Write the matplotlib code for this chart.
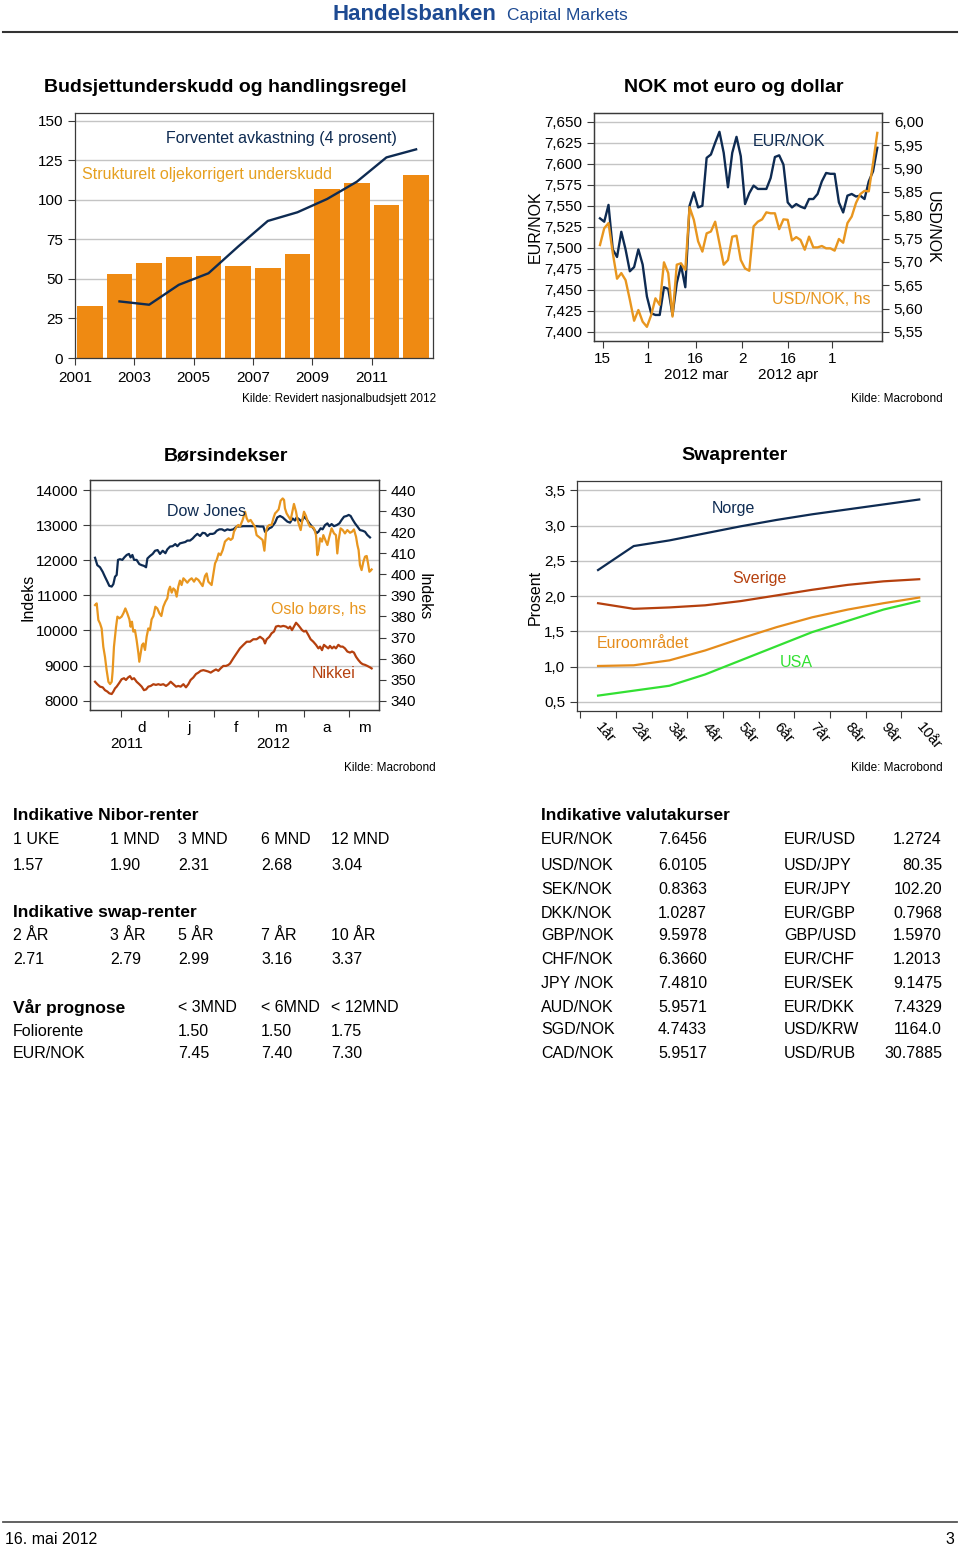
import numpy as np
import matplotlib
matplotlib.use("Agg")
import matplotlib.pyplot as plt
from matplotlib.lines import Line2D
from matplotlib.ticker import FuncFormatter

plt.rcParams['font.family'] = ['Liberation Sans', 'DejaVu Sans']

# --- Budsjettunderskudd og handlingsregel (mrd. kr) ---
years = list(range(2001, 2013))
deficit = [32.6, 53.0, 60.0, 63.7, 64.8, 58.0, 56.8, 65.9, 107.0, 110.7, 96.6, 115.7]
exp_years = list(range(2002, 2013))
expected = [35.8, 33.7, 46.3, 53.6, 70.5, 86.7, 92.2, 100.6, 111.5, 126.9, 132.0]

# --- NOK mot euro og dollar (daily, 15 feb - 15 mai 2012) ---
eurnok = [7.535, 7.531, 7.551, 7.498, 7.489, 7.519, 7.498, 7.472, 7.477, 7.498, 7.480,
          7.442, 7.422, 7.420, 7.420, 7.453, 7.451, 7.420, 7.458, 7.479, 7.453, 7.550,
          7.566, 7.548, 7.550, 7.607, 7.611, 7.625, 7.638, 7.613, 7.572, 7.613, 7.632,
          7.609, 7.552, 7.565, 7.574, 7.570, 7.570, 7.570, 7.583, 7.608, 7.610, 7.599,
          7.554, 7.548, 7.552, 7.549, 7.547, 7.558, 7.558, 7.564, 7.579, 7.589, 7.588,
          7.588, 7.554, 7.542, 7.562, 7.564, 7.561, 7.562, 7.558, 7.579, 7.591, 7.619]
usdnok = [5.736, 5.772, 5.783, 5.719, 5.664, 5.676, 5.661, 5.619, 5.574, 5.597, 5.572,
          5.561, 5.586, 5.622, 5.608, 5.699, 5.676, 5.583, 5.694, 5.697, 5.683, 5.817,
          5.790, 5.744, 5.722, 5.761, 5.765, 5.786, 5.740, 5.694, 5.704, 5.754, 5.756,
          5.704, 5.686, 5.681, 5.776, 5.786, 5.791, 5.806, 5.804, 5.804, 5.770, 5.791,
          5.790, 5.746, 5.753, 5.747, 5.726, 5.754, 5.731, 5.731, 5.734, 5.729, 5.729,
          5.724, 5.749, 5.741, 5.783, 5.797, 5.826, 5.845, 5.852, 5.851, 5.911, 5.976]
fx_ticks = [0.6, 11.25, 22.4, 33.3, 44.1, 54.4]
fx_ticklabels = ['15', '1', '16', '2', '16', '1']

# --- Børsindekser (x = days from 1 Dec 2011) ---
dow_days = [-17.3, -15.8, -14, -12.2, -10.7, -9.1, -7.8, -6.2, -5.1, -4, -2.9, -2, -0.7, 0.9,
            2.2, 3.8, 5.3, 6.4, 7.6, 8.7, 10.4, 12.2, 13.8, 15.3, 16.7, 17.6, 19.3, 21.1, 22.7,
            24.4, 26, 27.8, 29.6, 30.9, 32.7, 34.4, 36.2, 37.6, 39.3, 41.1, 42.9, 44.2, 46,
            47.8, 49.3, 50.9, 52.7, 54.4, 56, 57.6, 59.3, 61.1, 62.4, 63.8, 65.6, 67.3, 69.1,
            70.9, 72.7, 74.9, 77.1, 79.3, 81.6, 83.8, 86.0, 88.2, 90.4, 92.7, 94.9, 96.0, 97.1,
            98.9, 100.4, 102.7, 104.2, 106.0, 107.8, 109.3, 110.9, 112.7, 114.4, 116.0, 117.1,
            118.9, 120.4, 122.0, 123.8, 125.6, 127.1, 128.7, 130.4, 131.6, 133.1, 134.4, 136.0,
            137.6, 138.9, 140.4, 142.0, 143.8, 145.6, 147.1, 148.7, 150.4, 151.8, 153.1, 154.4,
            156.0, 157.6, 159.3, 161.1, 162.7, 164.2, 166.0]
dow = [12070, 11860, 11800, 11670, 11530, 11390, 11270, 11250, 11320, 11530, 11580, 12010,
       12030, 12010, 12080, 12150, 12180, 12080, 12150, 12010, 12010, 11890, 11860, 11840,
       11800, 12050, 12120, 12180, 12270, 12290, 12180, 12270, 12200, 12310, 12390, 12400,
       12460, 12400, 12480, 12500, 12520, 12560, 12560, 12620, 12690, 12750, 12690, 12780,
       12770, 12690, 12750, 12750, 12770, 12840, 12880, 12880, 12840, 12880, 12860,
       12880, 12960, 12960, 12970, 12970, 12970, 12970, 12970, 12960, 12960, 12810, 12840,
       12910, 12940, 13070, 13220, 13260, 13220, 13160, 13100, 13070, 13190, 13130, 13220,
       13160, 13100, 13240, 13160, 13050, 12970, 12880, 12770, 12810, 12910, 12880, 13000,
       13050, 12970, 13030, 12970, 13000, 13050, 13150, 13240, 13260, 13290, 13260, 13160,
       13050, 12960, 12860, 12840, 12810, 12720, 12650]
osl_days = [-17.3, -16.2, -15.1, -14.0, -12.9, -11.8, -10.7, -9.6, -8.4, -7.3, -6.2, -5.6,
            -4.7, -3.3, -2.4, -1.1, 0.4, 1.6, 2.9, 4.2, 5.6, 6.4, 7.3, 8.2, 9.3, 10.4, 11.6,
            12.2, 13.1, 14.0, 14.9, 16.0, 17.1, 18.2, 19.3, 20.4, 21.6, 22.9, 24.2, 25.6,
            26.9, 28.2, 29.6, 30.9, 31.8, 32.7, 33.8, 34.9, 36.0, 37.1, 38.2, 39.3, 40.4,
            41.6, 42.7, 44.2, 45.6, 47.1, 48.7, 50.0, 51.6, 53.1, 54.4, 56.0, 57.1, 58.2,
            59.3, 60.4, 61.6, 62.7, 63.8, 65.1, 66.4, 67.8, 69.3, 70.4, 71.8, 73.1,
            74.4, 75.3, 77.1, 78.2, 79.3, 81.1, 82.7, 83.8, 84.9, 86.4, 87.8, 89.3, 90.4,
            91.8, 93.1, 94.4, 95.6, 96.7, 97.6, 98.9, 100.4, 101.6, 102.7, 103.8, 105.1,
            106.4, 107.8, 108.7, 109.3, 110.4, 111.8, 113.1, 114.4, 115.3, 116.7, 117.6,
            118.7, 119.8, 121.1, 122.0, 123.3, 124.7, 126.0, 127.3, 128.7, 130.0, 130.9,
            131.8, 132.7, 134.0, 134.9, 136.2, 137.6, 138.9, 140.4, 142.0, 143.3, 144.2,
            145.1, 146.4, 147.8, 149.3, 150.9, 152.7, 154.0, 155.3, 156.7, 157.6, 158.4,
            159.3, 160.4, 161.6, 162.7, 163.8, 164.7, 165.6, 166.4, 167.1]
oslo = [385.4, 386.2, 378.3, 376.7, 374.3, 365.6, 360.9, 354.6, 349.0, 347.9, 349.0, 353.8,
        365.6, 375.1, 379.9, 379.1, 379.9, 381.5, 383.8, 381.5, 378.6, 375.1, 377.5, 372.8,
        373.5, 368.8, 362.5, 358.5, 362.5, 366.4, 367.2, 364.1, 370.4, 374.3, 373.5, 378.6,
        380.2, 384.6, 383.8, 381.5, 380.2, 384.6, 387.0, 388.6, 392.5, 394.1, 391.3, 393.3,
        392.5, 389.4, 394.1, 397.0, 394.9, 398.1, 397.3, 396.0, 397.3, 398.1, 396.5, 398.1,
        397.3, 395.7, 394.4, 399.2, 400.4, 396.5, 395.7, 394.9, 400.4, 405.2, 406.8, 409.9,
        409.1, 411.5, 415.5, 416.3, 417.1, 416.3,
        417.1, 420.2, 422.6, 423.4, 422.6, 425.8, 429.7, 426.6, 425.0, 425.8, 424.2, 422.6,
        418.6, 417.8, 417.1, 416.3, 411.2, 420.2, 422.6, 423.4, 423.4, 426.6, 428.9, 429.7,
        430.8, 434.9, 436.0, 435.3, 431.3, 428.9, 427.3, 425.8, 430.2, 433.4, 429.7, 426.1,
        423.4, 421.0, 426.6, 429.7, 427.7, 424.5, 422.6, 422.6, 421.8, 418.6, 409.1, 411.5,
        417.1, 415.5, 418.6, 416.3, 413.9, 417.8, 421.8, 419.4, 418.6, 409.9, 416.3, 421.8,
        421.0, 419.4, 421.0, 419.7, 420.2, 421.3, 417.8, 413.9, 411.5, 404.4, 402.0, 406.0,
        408.4, 408.7, 405.2, 401.2, 401.7, 402.3]
nik_days = [-17.3, -15.8, -14.0, -12.2, -10.7, -9.1, -7.8, -6.2, -5.1, -4.0, -2.9, -1.1, 0.4,
            2.0, 3.3, 4.7, 6.0, 7.3, 8.7, 10.4, 12.2, 13.8, 15.3, 16.7, 18.2, 19.8, 21.6, 23.3,
            24.9, 26.4, 28.2, 30.0, 31.6, 33.1, 34.9, 36.7, 38.2, 39.8, 41.6, 43.3, 44.9, 46.4,
            48.2, 50.0, 51.6, 53.1, 54.9, 56.7, 58.2, 59.8, 61.6, 63.3, 64.9, 66.4, 68.2, 70.0,
            71.6, 72.7, 74.9, 77.1, 79.3, 81.6, 83.8, 86.0, 88.2, 90.4, 92.7, 94.9, 96.0, 97.1,
            98.9, 100.4, 102.0, 103.3, 104.9, 106.4, 108.2, 110.0, 111.6, 112.7, 114.0, 115.3,
            116.7, 118.2, 119.3, 120.7, 122.0, 123.3, 124.9, 126.4, 128.2, 130.0, 131.6, 132.7,
            134.0, 135.3, 136.7, 138.2, 139.3, 140.7, 142.0, 143.3, 144.9, 146.4, 147.8, 149.3,
            150.9, 152.7, 154.0, 155.3, 156.7, 158.2, 159.8, 161.1, 162.7, 164.2, 166.0, 167.1]
nikkei = [8540, 8470, 8400, 8380, 8300, 8260, 8210, 8190, 8260, 8350, 8400, 8510, 8610, 8640,
          8590, 8660, 8700, 8610, 8640, 8540, 8470, 8400, 8300, 8320, 8400, 8420, 8470, 8450,
          8470, 8450, 8470, 8420, 8470, 8540, 8470, 8400, 8420, 8400, 8470, 8380, 8470, 8590,
          8660, 8760, 8800, 8850, 8870, 8850, 8830, 8800, 8850, 8890, 8850, 8920, 8990, 8990,
          9020, 9060, 9210, 9350, 9490, 9590, 9680, 9680, 9750, 9750, 9820, 9750, 9630, 9750,
          9820, 9920, 9970, 10110, 10130, 10110, 10130, 10110, 10060, 10110, 10010, 10110,
          10220, 10150, 10090, 10010, 9970, 9990, 9870, 9750, 9680, 9590, 9490, 9540, 9440,
          9590, 9540, 9490, 9560, 9490, 9540, 9490, 9590, 9540, 9540, 9490, 9400, 9370, 9400,
          9370, 9250, 9160, 9080, 9040, 9020, 8990, 8950, 8920]
month_edges = [0, 31, 62, 91, 122, 152]
month_mid = [14, 45.3, 76.5, 106.5, 137, 162]
month_labels = ['d', 'j', 'f', 'm', 'a', 'm']

# --- Swaprenter ---
tenors = list(range(1, 11))
tenor_labels = ['1år', '2år', '3år', '4år', '5år', '6år', '7år', '8år', '9år', '10år']
norge = [2.37, 2.71, 2.79, 2.89, 2.99, 3.08, 3.16, 3.23, 3.30, 3.37]
sverige = [1.90, 1.82, 1.84, 1.87, 1.93, 2.01, 2.09, 2.16, 2.21, 2.24]
euro = [1.01, 1.02, 1.09, 1.23, 1.40, 1.56, 1.70, 1.81, 1.90, 1.98]
usa = [0.59, 0.66, 0.73, 0.89, 1.09, 1.29, 1.49, 1.65, 1.81, 1.93]

# --- tabeller ---
nibor_hdr = ['1 UKE', '1 MND', '3 MND', '6 MND', '12 MND']
nibor = ['1.57', '1.90', '2.31', '2.68', '3.04']
swap_hdr = ['2 ÅR', '3 ÅR', '5 ÅR', '7 ÅR', '10 ÅR']
swap = ['2.71', '2.79', '2.99', '3.16', '3.37']
prog_hdr = ['< 3MND', '< 6MND', '< 12MND']
folio = ['1.50', '1.50', '1.75']
eurnok_prog = ['7.45', '7.40', '7.30']
fx_a = ['EUR/NOK', 'USD/NOK', 'SEK/NOK', 'DKK/NOK', 'GBP/NOK', 'CHF/NOK', 'JPY /NOK',
        'AUD/NOK', 'SGD/NOK', 'CAD/NOK']
fx_a_val = ['7.6456', '6.0105', '0.8363', '1.0287', '9.5978', '6.3660', '7.4810', '5.9571',
            '4.7433', '5.9517']
fx_b = ['EUR/USD', 'USD/JPY', 'EUR/JPY', 'EUR/GBP', 'GBP/USD', 'EUR/CHF', 'EUR/SEK',
        'EUR/DKK', 'USD/KRW', 'USD/RUB']
fx_b_val = ['1.2724', '80.35', '102.20', '0.7968', '1.5970', '1.2013', '9.1475', '7.4329',
            '1164.0', '30.7885']

NAVY = '#0e2b52'
ORANGE = '#e8961f'
BAR = '#ef8a12'
RED = '#b5400e'
EURO = '#e58c1c'
GREEN = '#33e033'
GRID = '#c4c4c4'
HB = '#1d4a92'
W, H = 960, 1546

fig = plt.figure(figsize=(9.6, 15.46), dpi=100)


def box(l, t, r, b):
    return [l / W, 1 - b / H, (r - l) / W, (b - t) / H]


def ftext(x, y, s, **kw):
    kw.setdefault('va', 'center')
    fig.text(x / W, 1 - y / H, s, **kw)


def style(ax):
    for sp in ax.spines.values():
        sp.set_color('#3a3a3a')
        sp.set_linewidth(0.9)
    ax.yaxis.grid(True, color=GRID, lw=1.0)
    ax.set_axisbelow(True)
    ax.tick_params(labelsize=11, length=5, width=0.8, color='#3a3a3a', direction='out')


comma = lambda fmt: FuncFormatter(lambda v, p: format(v, fmt).replace('.', ','))

# header / footer
ftext(333, 20, 'Handelsbanken', ha='left', va='baseline', fontsize=16, fontweight='bold', color=HB)
ftext(507, 20, 'Capital Markets', ha='left', va='baseline', fontsize=12.5, color=HB)
fig.add_artist(Line2D([3 / W, 957 / W], [1 - 32 / H] * 2, color='#333333', lw=1.5))
fig.add_artist(Line2D([3 / W, 957 / W], [1 - 1522 / H] * 2, color='#555555', lw=1.3))
ftext(5, 1539, '16. mai 2012', ha='left', fontsize=11.5)
ftext(954, 1539, '3', ha='right', fontsize=11.5)

# chart 1
ax1 = fig.add_axes(box(75, 113, 433, 358))
style(ax1)
ax1.bar(np.array(years) + 0.5, deficit, width=0.87, color=BAR, zorder=2)
ax1.plot(np.array(exp_years) + 0.5, expected, color=NAVY, lw=1.7, zorder=3)
ax1.set_xlim(2001, 2013.07)
ax1.set_ylim(0, 155)
ax1.set_yticks(range(0, 151, 25))
ax1.set_xticks(range(2001, 2012, 2))
ax1.tick_params(axis='x', pad=4)
ftext(44, 87, 'Budsjettunderskudd og handlingsregel', ha='left', fontsize=14, fontweight='bold')
ftext(166, 138, 'Forventet avkastning (4 prosent)', ha='left', fontsize=11.5, color=NAVY)
ftext(82, 175, 'Strukturelt oljekorrigert underskudd', ha='left', fontsize=11.5, color='#e6a020')
ftext(436, 399, 'Kilde: Revidert nasjonalbudsjett 2012', ha='right', fontsize=8.5)

# chart 2
ax2 = fig.add_axes(box(594, 113, 882, 341))
style(ax2)
x2 = np.arange(len(eurnok))
ax2.plot(x2, eurnok, color=NAVY, lw=1.7, zorder=3)
ax2.set_xlim(-1.4, 66.1)
ax2.set_ylim(7.389, 7.6604)
ax2.set_yticks(np.arange(7.400, 7.651, 0.025))
ax2.yaxis.set_major_formatter(comma('.3f'))
ax2.set_xticks(fx_ticks)
ax2.set_xticklabels(fx_ticklabels)
ax2.tick_params(axis='x', pad=3)
ax2r = ax2.twinx()
style(ax2r)
ax2r.yaxis.grid(False)
ax2r.plot(x2, usdnok, color=ORANGE, lw=1.7)
ax2r.set_ylim(5.5307, 6.0186)
ax2r.set_yticks(np.arange(5.55, 6.001, 0.05))
ax2r.yaxis.set_major_formatter(comma('.2f'))
ftext(734, 87, 'NOK mot euro og dollar', ha='center', fontsize=14, fontweight='bold')
ftext(535, 227, 'EUR/NOK', ha='center', rotation=90, fontsize=11.5)
ftext(932, 227, 'USD/NOK', ha='center', rotation=270, fontsize=11.5)
ftext(753, 141, 'EUR/NOK', ha='left', fontsize=11.5, color=NAVY)
ftext(772, 299, 'USD/NOK, hs', ha='left', fontsize=11.5, color=ORANGE)
ftext(696, 375, '2012 mar', ha='center', fontsize=11)
ftext(788, 375, '2012 apr', ha='center', fontsize=11)
ftext(943, 399, 'Kilde: Macrobond', ha='right', fontsize=8.5)

# chart 3
ax3 = fig.add_axes(box(90, 480, 379, 710))
style(ax3)
ax3.plot(dow_days, dow, color=NAVY, lw=1.6, zorder=3)
ax3.plot(nik_days, nikkei, color=RED, lw=1.6, zorder=3)
ax3.set_xlim(-20.67, 172)
ax3.set_ylim(7735, 14285)
ax3.set_yticks(range(8000, 14001, 1000))
ax3.set_xticks(month_edges)
ax3.set_xticklabels([])
ax3.set_xticks(month_mid, minor=True)
ax3.set_xticklabels(month_labels, minor=True)
ax3.tick_params(axis='x', which='minor', length=0, pad=8, labelsize=11)
ax3r = ax3.twinx()
style(ax3r)
ax3r.yaxis.grid(False)
ax3r.plot(osl_days, oslo, color=ORANGE, lw=1.6)
ax3r.set_ylim(335.6, 444.75)
ax3r.set_yticks(range(340, 441, 10))
ftext(226, 456, 'Børsindekser', ha='center', fontsize=14, fontweight='bold')
ftext(28, 597, 'Indeks', ha='center', rotation=90, fontsize=11.5)
ftext(424, 597, 'Indeks', ha='center', rotation=270, fontsize=11.5)
ftext(167, 512, 'Dow Jones', ha='left', fontsize=11.5, color=NAVY)
ftext(271, 610, 'Oslo børs, hs', ha='left', fontsize=11.5, color=ORANGE)
ftext(312, 674, 'Nikkei', ha='left', fontsize=11.5, color=RED)
ftext(127, 744, '2011', ha='center', fontsize=11)
ftext(273, 744, '2012', ha='center', fontsize=11)
ftext(436, 768, 'Kilde: Macrobond', ha='right', fontsize=8.5)

# chart 4
ax4 = fig.add_axes(box(577, 481, 941, 711))
style(ax4)
ax4.plot(tenors, norge, color=NAVY, lw=1.6)
ax4.plot(tenors, sverige, color=RED, lw=1.6)
ax4.plot(tenors, euro, color=EURO, lw=1.6)
ax4.plot(tenors, usa, color=GREEN, lw=1.6)
ax4.set_xlim(0.41, 10.61)
ax4.set_ylim(0.372, 3.632)
ax4.set_yticks(np.arange(0.5, 3.51, 0.5))
ax4.yaxis.set_major_formatter(comma('.1f'))
ax4.set_xticks(np.arange(0.5, 10, 1.0))
ax4.set_xticklabels([])
ax4.set_xticks(tenors, minor=True)
ax4.set_xticklabels(tenor_labels, minor=True, rotation=-50, rotation_mode='anchor',
                    ha='left', va='center')
ax4.tick_params(axis='x', which='minor', length=0, pad=10, labelsize=11)
ftext(734, 456, 'Swaprenter', ha='center', fontsize=14, fontweight='bold')
ftext(535, 597, 'Prosent', ha='center', rotation=90, fontsize=11.5)
ftext(712, 509, 'Norge', ha='left', fontsize=11.5, color=NAVY)
ftext(732, 578, 'Sverige', ha='left', fontsize=11.5, color=RED)
ftext(597, 644, 'Euroområdet', ha='left', fontsize=11.5, color=EURO)
ftext(780, 663, 'USA', ha='left', fontsize=11.5, color=GREEN)
ftext(943, 768, 'Kilde: Macrobond', ha='right', fontsize=8.5)

# tables
cols = [13, 110, 178, 261, 331]
ftext(13, 815, 'Indikative Nibor-renter', ha='left', fontsize=12.5, fontweight='bold')
for x, a, b in zip(cols, nibor_hdr, nibor):
    ftext(x, 839, a, ha='left', fontsize=11.5)
    ftext(x, 865, b, ha='left', fontsize=11.5)
ftext(13, 913, 'Indikative swap-renter', ha='left', fontsize=12.5, fontweight='bold')
for x, a, b in zip(cols, swap_hdr, swap):
    ftext(x, 936, a, ha='left', fontsize=11.5)
    ftext(x, 960, b, ha='left', fontsize=11.5)
ftext(13, 1007, 'Vår prognose', ha='left', fontsize=12.5, fontweight='bold')
ftext(13, 1031, 'Foliorente', ha='left', fontsize=11.5)
ftext(13, 1054, 'EUR/NOK', ha='left', fontsize=11.5)
for x, a, b, c in zip(cols[2:], prog_hdr, folio, eurnok_prog):
    ftext(x, 1007, a, ha='left', fontsize=11.5)
    ftext(x, 1031, b, ha='left', fontsize=11.5)
    ftext(x, 1054, c, ha='left', fontsize=11.5)

ftext(541, 815, 'Indikative valutakurser', ha='left', fontsize=12.5, fontweight='bold')
rows = [839, 865, 889, 913, 936, 960, 983, 1007, 1030, 1054]
for y, a, av, b, bv in zip(rows, fx_a, fx_a_val, fx_b, fx_b_val):
    ftext(541, y, a, ha='left', fontsize=11.5)
    ftext(658, y, av, ha='left', fontsize=11.5)
    ftext(784, y, b, ha='left', fontsize=11.5)
    ftext(942, y, bv, ha='right', fontsize=11.5)

fig.savefig("out.png", dpi=100)
